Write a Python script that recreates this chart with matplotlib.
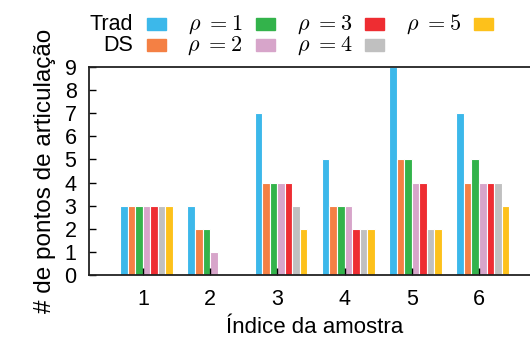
import numpy as np
import matplotlib
matplotlib.use('Agg')
import matplotlib.pyplot as plt
from matplotlib.patches import Rectangle

plt.rcParams['font.family'] = ['Liberation Sans', 'DejaVu Sans']
plt.rcParams['mathtext.fontset'] = 'cm'

samples = ['1', '2', '3', '4', '5', '6']
series = ['Trad', 'DS', r'$\rho\ = 1$', r'$\rho\ = 2$', r'$\rho\ = 3$', r'$\rho\ = 4$', r'$\rho\ = 5$']
trad = [3, 3, 7, 5, 9, 7]
ds = [3, 2, 4, 3, 5, 4]
rho1 = [3, 2, 4, 3, 5, 5]
rho2 = [3, 1, 4, 3, 4, 4]
rho3 = [3, 0, 4, 2, 4, 4]
rho4 = [3, 0, 3, 2, 2, 4]
rho5 = [3, 0, 2, 2, 2, 3]
colors = ['#3cb8ea', '#f48044', '#33b34b', '#d7a5ca', '#ee2d32', '#c0c0c0', '#fdc11b']

values = [trad, ds, rho1, rho2, rho3, rho4, rho5]

W, H = 530, 343
fig = plt.figure(figsize=(W / 100, H / 100), dpi=100)
ax = fig.add_axes([0.168, 0.198, 0.85, 0.607])

x = np.arange(1, len(samples) + 1)
w = 0.112
for k, (vals, lab, c) in enumerate(zip(values, series, colors)):
    ax.bar(x + (k - 3) * w, vals, w, align='edge', color=c, label=lab,
           edgecolor='white', linewidth=0.8)

ax.set_xlim(0.2, 6.9)
ax.set_ylim(0, 9)
ax.set_yticks(range(10))
ax.set_xticks(x, labels=samples)
ax.tick_params(direction='in', labelsize=15.5, length=5, width=1)
ax.tick_params(axis='x', pad=10)
ax.tick_params(axis='y', pad=9)
for s in ['left', 'top', 'bottom', 'right']:
    ax.spines[s].set_linewidth(1.3)
    ax.spines[s].set_color('#222222')

ax.set_xlabel('Índice da amostra', fontsize=16, labelpad=5)
ax.set_ylabel('# de pontos de articulação', fontsize=17.5, labelpad=6)

# legend drawn by hand, gnuplot style: label right-aligned, swatch after it
text_right = [133, 133, 242, 242, 352, 352, 461]
swatch_left = [147, 147, 256, 256, 365, 365, 474]
baselines = [30, 51, 30, 51, 30, 51, 30]
for i, (lab, c, tr, sl, b) in enumerate(zip(series, colors, text_right, swatch_left, baselines)):
    fs = 15.5 if i < 2 else 16
    fig.text(tr / W, 1 - b / H, lab, ha='right', va='baseline', fontsize=fs)
    fig.patches.append(Rectangle((sl / W, 1 - b / H), 18.5 / W, 12 / H,
                                 transform=fig.transFigure, color=c))

fig.savefig('out.png', dpi=100)
